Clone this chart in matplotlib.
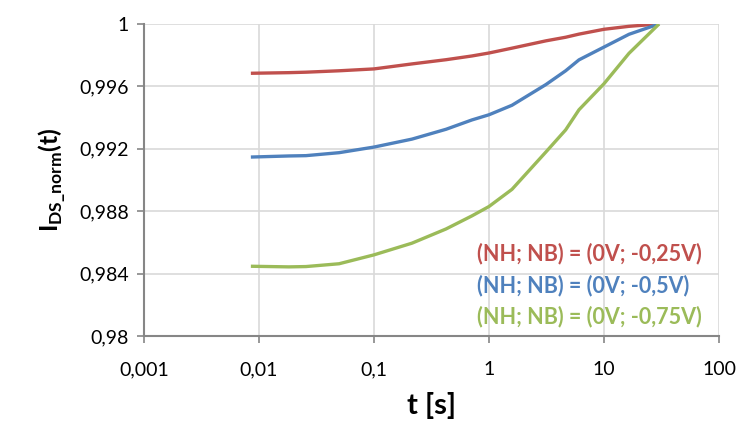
import matplotlib
matplotlib.use("Agg")
import matplotlib.pyplot as plt

plt.rcParams["font.family"] = ["Lato", "DejaVu Sans"]
plt.rcParams["mathtext.fontset"] = "custom"
plt.rcParams["mathtext.rm"] = "Lato"
plt.rcParams["mathtext.bf"] = "Lato:bold"

# data
t = [0.0085, 0.0182, 0.0256, 0.0497, 0.1, 0.214, 0.423, 0.711, 1.0, 1.585, 3.13, 4.64,
     6.06, 10.0, 16.5, 30.1]
red = [0.99684, 0.99688, 0.99691, 0.99700, 0.99712, 0.99744, 0.99771, 0.99795, 0.99814,
       0.99845, 0.99892, 0.99915, 0.99935, 0.99966, 0.99985, 1.0]
blue = [0.99147, 0.99154, 0.99156, 0.99175, 0.99211, 0.99262, 0.99325, 0.99385, 0.99418,
        0.99479, 0.99612, 0.99700, 0.99770, 0.99852, 0.99934, 1.0]
green = [0.98447, 0.98443, 0.98445, 0.98463, 0.98520, 0.98595, 0.98686, 0.98770, 0.98830,
         0.98940, 0.99180, 0.99321, 0.99450, 0.99617, 0.99812, 1.0]

labels = ["(NH; NB) = (0V; -0,25V)", "(NH; NB) = (0V; -0,5V)", "(NH; NB) = (0V; -0,75V)"]
colors = ["#C0504D", "#4F81BD", "#9BBB59"]

yticks = [0.98, 0.984, 0.988, 0.992, 0.996, 1.0]
ytick_labels = ["0,98", "0,984", "0,988", "0,992", "0,996", "1"]
xticks = [0.001, 0.01, 0.1, 1, 10, 100]
xtick_labels = ["0,001", "0,01", "0,1", "1", "10", "100"]

fig = plt.figure(figsize=(7.41, 4.26), dpi=100)
ax = fig.add_axes([0.1943, 0.2113, 0.776, 0.7324])

for ys, c in zip([red, blue, green], colors):
    ax.plot(t, ys, color=c, linewidth=2.4, solid_capstyle="butt", solid_joinstyle="round")

ax.set_xscale("log")
ax.set_xlim(0.001, 100)
ax.set_ylim(0.98, 1.0)
ax.set_xticks(xticks)
ax.set_xticklabels(xtick_labels)
ax.set_yticks(yticks)
ax.set_yticklabels(ytick_labels)
ax.minorticks_off()
ax.tick_params(labelsize=14, colors="#868686", labelcolor="black", length=5, width=1.2, pad=6)
ax.tick_params(axis="x", pad=13)

ax.grid(True, color="#D9D9D9", linewidth=1.2)
ax.set_axisbelow(True)
for s in ["top", "right"]:
    ax.spines[s].set_visible(False)
for s in ["left", "bottom"]:
    ax.spines[s].set_color("#868686")
    ax.spines[s].set_linewidth(1.5)

ax.set_xlabel("t [s]", fontsize=21, fontweight="bold", labelpad=10)
ax.set_ylabel(r"$\mathbf{I}_{\mathbf{DS\_norm}}\mathbf{(t)}$", fontsize=18, labelpad=8)

for i, (lab, c) in enumerate(zip(labels, colors)):
    fig.text(477 / 741, 1 - (254 + 31.5 * i) / 426, lab, color=c, fontsize=15.5,
             fontweight="bold", ha="left", va="center")

fig.savefig("out.png", dpi=100)
